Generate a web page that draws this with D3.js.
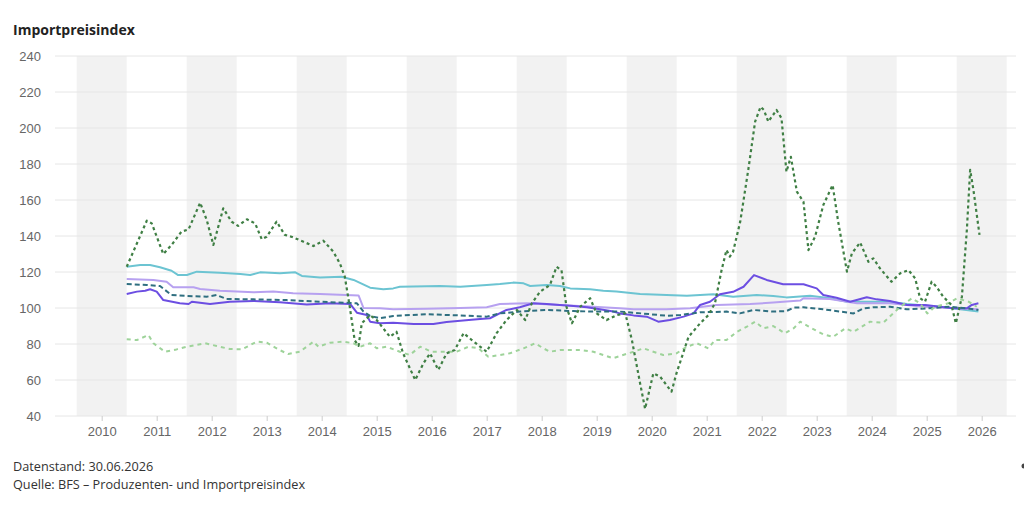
<!DOCTYPE html>
<html>
<head>
<meta charset="utf-8">
<script src="https://cdn.jsdelivr.net/npm/d3@7"></script>
<style>
  body { margin: 0; background: #fff; font-family: "Open Sans", "Noto Sans", sans-serif; }
  .tick text { fill: #666; font-size: 13px; }
</style>
</head>
<body>
<div id="chart"></div>
<script>
// values (decimal year, index value)
var yearTicks = [2010, 2011, 2012, 2013, 2014, 2015, 2016, 2017, 2018, 2019, 2020, 2021, 2022, 2023, 2024, 2025, 2026];
var bandYears = [2010, 2012, 2014, 2016, 2018, 2020, 2022, 2024, 2026];
var valueTicks = [40, 60, 80, 100, 120, 140, 160, 180, 200, 220, 240];

var energy = [[2010.455,122.9],[2010.82,148.5],[2010.91,147],[2011.12,130],[2011.27,135],[2011.45,142.4],[2011.58,143.7],[2011.79,158.5],[2011.91,148.9],[2012.03,135],[2012.21,155.4],[2012.36,148],[2012.48,145.6],[2012.64,149.3],[2012.79,147],[2012.91,138.2],[2013.0,139.6],[2013.18,148],[2013.33,140.6],[2013.45,139.6],[2013.67,136.8],[2013.85,134.4],[2014.03,137.4],[2014.21,131.3],[2014.33,124.8],[2014.42,117.4],[2014.51,100.7],[2014.6,82],[2014.67,79],[2014.73,91.6],[2014.88,96],[2015.0,93.3],[2015.12,88.7],[2015.24,84],[2015.36,86.8],[2015.48,74.8],[2015.7,60],[2015.85,69.3],[2015.97,74.8],[2016.12,65.6],[2016.27,74.8],[2016.42,76.7],[2016.58,86],[2016.73,82.2],[2016.88,78.5],[2017.0,75.7],[2017.18,86],[2017.36,93.3],[2017.55,98.9],[2017.7,93.3],[2017.82,102.6],[2017.97,109],[2018.15,112.8],[2018.27,122.9],[2018.36,121],[2018.45,100.7],[2018.55,91.5],[2018.7,100.7],[2018.88,105.4],[2019.0,97],[2019.18,93.3],[2019.36,96],[2019.52,97],[2019.64,82.2],[2019.79,58],[2019.88,44],[2020.03,63.7],[2020.15,62],[2020.36,53.5],[2020.45,63.7],[2020.67,84],[2020.88,91.5],[2021.03,96],[2021.15,102.6],[2021.27,121],[2021.36,132.2],[2021.42,128.5],[2021.48,131.3],[2021.61,148],[2021.76,177.6],[2021.88,203.5],[2021.98,211.8],[2022.04,210],[2022.12,203.5],[2022.27,210],[2022.36,205.4],[2022.45,175.7],[2022.53,184],[2022.64,164.6],[2022.76,159],[2022.85,132.2],[2022.97,139.6],[2023.12,157.2],[2023.29,168.3],[2023.39,148],[2023.55,120.2],[2023.64,130.4],[2023.79,136.4],[2023.94,125.7],[2024.03,127.6],[2024.15,122],[2024.36,114.6],[2024.52,119.3],[2024.67,121],[2024.79,116.5],[2024.88,105.4],[2024.97,103.5],[2025.09,114.6],[2025.18,111.8],[2025.3,106.3],[2025.45,101.7],[2025.53,91.5],[2025.64,106.3],[2025.73,143.3],[2025.79,176.7],[2025.85,165.6],[2025.96,140.6]];

var agri = [[2010.455,82.6],[2010.64,82.2],[2010.85,85],[2010.94,80.4],[2011.15,75.7],[2011.36,77],[2011.55,78.5],[2011.88,80.4],[2012.09,78.9],[2012.33,77.2],[2012.55,77],[2012.82,81.3],[2013.0,80.7],[2013.21,77],[2013.39,74.4],[2013.6,75.7],[2013.85,81.3],[2013.94,78.5],[2014.15,80.7],[2014.39,81.3],[2014.58,80.4],[2014.7,78.5],[2014.88,80.4],[2015.0,77.6],[2015.18,78.5],[2015.42,75.7],[2015.6,73.9],[2015.79,78.5],[2016.0,75.7],[2016.21,75.7],[2016.45,75.7],[2016.67,78.5],[2016.85,77.6],[2017.03,72.9],[2017.24,73.9],[2017.42,74.8],[2017.67,77.6],[2017.88,80.4],[2018.03,77.6],[2018.15,75.7],[2018.33,76.7],[2018.7,76.7],[2018.94,75.7],[2019.12,73.9],[2019.3,72.1],[2019.48,73.9],[2019.67,75.7],[2019.85,77.6],[2020.03,75.7],[2020.21,73.9],[2020.45,74.8],[2020.64,78.5],[2020.82,80.4],[2021.03,77.6],[2021.15,82.2],[2021.36,82.2],[2021.55,86.8],[2021.73,89.6],[2021.88,92.4],[2022.03,88.7],[2022.21,90],[2022.42,86],[2022.58,88.7],[2022.7,92.4],[2022.91,88.7],[2023.12,85.4],[2023.3,84],[2023.52,88.7],[2023.67,86.8],[2023.97,92.4],[2024.21,91.8],[2024.39,97],[2024.52,100.7],[2024.73,105.4],[2024.88,102.6],[2025.01,97],[2025.15,100.7],[2025.39,102.6],[2025.55,105.4],[2025.76,103.5],[2025.91,100.7]];

var total = [[2010.455,122.9],[2010.7,123.9],[2010.88,123.9],[2011.06,122.6],[2011.27,120.7],[2011.39,118.3],[2011.55,118.3],[2011.73,120.2],[2012.15,119.6],[2012.52,118.9],[2012.7,118.3],[2012.88,119.8],[2013.24,119.3],[2013.52,119.8],[2013.64,117.8],[2013.97,117],[2014.36,117.4],[2014.58,115.6],[2014.88,111.3],[2015.12,110.4],[2015.3,110.9],[2015.42,111.8],[2016.15,112.2],[2016.52,111.8],[2017.0,112.8],[2017.24,113.3],[2017.48,114.1],[2017.67,113.7],[2017.79,112.2],[2018.09,112.8],[2018.33,112.2],[2018.52,110.9],[2018.88,110.4],[2019.12,109.6],[2019.36,109.1],[2019.79,107.8],[2020.27,107.2],[2020.64,106.8],[2021.12,107.6],[2021.48,106.3],[2021.91,107.2],[2022.21,106.7],[2022.45,105.9],[2022.88,106.8],[2023.24,105.4],[2023.55,103.5],[2024.33,103.5],[2024.64,102.2],[2025.24,100.7],[2025.94,98]];

var consumer = [[2010.455,116.1],[2010.94,115.6],[2011.18,114.6],[2011.3,111.5],[2011.67,111.5],[2011.79,110.6],[2012.15,109.6],[2012.76,108.7],[2013.12,109.1],[2013.48,108.2],[2013.97,107.8],[2014.67,107],[2014.76,100],[2015.06,99.8],[2015.3,99.3],[2015.91,99.6],[2016.52,100],[2017.0,100.4],[2017.24,102.2],[2017.73,102.6],[2018.33,101.7],[2018.94,100.7],[2019.42,99.8],[2019.67,99.3],[2020.27,99.3],[2020.7,99.8],[2021.18,101.7],[2021.79,102.2],[2022.21,103],[2022.7,104.1],[2022.76,105.4],[2023.24,105],[2023.73,102.6],[2024.33,102.6],[2024.94,100.7],[2025.55,99.8],[2025.94,99.3]];

var intermediate = [[2010.455,107.8],[2010.64,109.1],[2010.79,109.6],[2010.88,110.4],[2011.0,109.1],[2011.12,104.4],[2011.42,102.6],[2011.58,102.2],[2011.64,103.5],[2011.97,102.2],[2012.33,103.5],[2012.76,103.9],[2013.24,103.2],[2013.73,102],[2014.15,102.6],[2014.52,102.2],[2014.64,97.4],[2014.82,96.1],[2014.88,92.4],[2015.06,91.5],[2015.3,91.8],[2015.67,91.1],[2016.03,91.1],[2016.27,92.2],[2016.52,92.9],[2016.88,93.9],[2017.06,94.3],[2017.36,98.9],[2017.6,100.4],[2017.85,102.6],[2018.09,102.2],[2018.33,101.7],[2018.58,101.1],[2018.82,100.4],[2019.06,99.3],[2019.3,98],[2019.42,97],[2019.67,95.9],[2019.91,95.2],[2020.12,92.4],[2020.33,93.3],[2020.58,95.2],[2020.76,97],[2020.88,101.7],[2021.06,103.5],[2021.24,107.6],[2021.48,109],[2021.67,111.8],[2021.86,118.3],[2022.09,115.6],[2022.39,113.2],[2022.76,113.2],[2023.0,110.9],[2023.12,107.2],[2023.36,105.7],[2023.61,103.5],[2023.91,106],[2024.09,104.8],[2024.33,103.9],[2024.64,101.7],[2024.97,101.7],[2025.48,99.8],[2025.73,99.8],[2025.82,101.7],[2025.94,102.6]];

var capital = [[2010.455,113.3],[2010.82,112.8],[2011.06,112.2],[2011.27,107.2],[2011.55,106.7],[2011.91,106.3],[2012.09,107.2],[2012.27,105],[2012.76,104.8],[2013.36,104.4],[2013.97,103.5],[2014.64,102.6],[2014.76,98],[2014.88,95.6],[2015.06,94.3],[2015.3,95.6],[2015.91,96.5],[2016.52,95.9],[2017.0,95.2],[2017.24,97],[2017.6,98],[2018.09,98.9],[2018.58,98.3],[2018.94,98],[2019.42,98],[2019.67,97.4],[2020.27,95.7],[2020.52,96.1],[2020.88,97.6],[2021.36,98],[2021.6,97],[2021.85,98.9],[2022.21,98],[2022.45,98.3],[2022.58,100.2],[2022.76,100.4],[2023.12,99.3],[2023.67,97],[2023.85,99.8],[2024.03,100.4],[2024.33,100.7],[2024.64,99.3],[2025.0,99.8],[2025.42,100.7],[2025.73,99.8],[2025.94,98.9]];

var svgWidth = 1024, svgHeight = 508;
var margin = { top: 56, right: 4, bottom: 92, left: 55 };
var width = svgWidth - margin.left - margin.right;
var height = svgHeight - margin.top - margin.bottom;

var svg = d3.select("#chart").append("svg")
  .attr("width", svgWidth)
  .attr("height", svgHeight);

svg.append("text")
  .attr("x", 13).attr("y", 35)
  .attr("font-size", "14px").attr("font-weight", "bold").attr("fill", "#222")
  .text("Importpreisindex");

var chartGroup = svg.append("g")
  .attr("transform", `translate(${margin.left}, ${margin.top})`);

// x: 55px per year, 2010 sits 46.7px right of the plot edge
var x = d3.scaleLinear()
  .domain([2010 - 46.7 / 55, 2010 + (width - 46.7) / 55])
  .range([0, width]);
var y = d3.scaleLinear().domain([40, 240]).range([height, 0]);

// alternating grey year bands
chartGroup.selectAll("rect.band")
  .data(bandYears)
  .enter().append("rect")
  .attr("class", "band")
  .attr("x", d => x(d - 25 / 55))
  .attr("width", d => x(d + 25 / 55) - x(d - 25 / 55))
  .attr("y", 0).attr("height", height)
  .attr("fill", "#f2f2f2");

// horizontal grid
chartGroup.selectAll("line.grid")
  .data(valueTicks)
  .enter().append("line")
  .attr("class", "grid")
  .attr("x1", 0).attr("x2", width - 4)
  .attr("y1", d => y(d)).attr("y2", d => y(d))
  .attr("stroke", "#e6e6e6").attr("stroke-width", 1);

var leftAxis = d3.axisLeft(y).tickValues(valueTicks).tickSize(0).tickPadding(14);
chartGroup.append("g").call(leftAxis)
  .call(g => g.select(".domain").remove());

var bottomAxis = d3.axisBottom(x).tickValues(yearTicks).tickFormat(d3.format("d")).tickSize(5).tickPadding(6);
chartGroup.append("g")
  .attr("transform", `translate(0, ${height})`)
  .call(bottomAxis)
  .call(g => g.select(".domain").remove())
  .call(g => g.selectAll(".tick line").attr("stroke", "#ccc"));

var line = d3.line().x(d => x(d[0])).y(d => y(d[1]));

var seriesList = [
  { data: total, color: "#6cc4d2", dash: null, w: 2 },
  { data: consumer, color: "#b7a1f0", dash: null, w: 2 },
  { data: intermediate, color: "#6c4ee2", dash: null, w: 2 },
  { data: capital, color: "#2f6f80", dash: "5,3", w: 2 },
  { data: agri, color: "#9ed39a", dash: "4,4", w: 2 },
  { data: energy, color: "#3f7f44", dash: "3,3", w: 2.2 }
];

seriesList.forEach(function(s) {
  chartGroup.append("path")
    .datum(s.data)
    .attr("d", line)
    .attr("fill", "none")
    .attr("stroke", s.color)
    .attr("stroke-width", s.w)
    .attr("stroke-dasharray", s.dash)
    .attr("stroke-linejoin", "round");
});

svg.append("text").attr("x", 13).attr("y", 471)
  .attr("font-size", "12.7px").attr("fill", "#333")
  .text("Datenstand: 30.06.2026");
svg.append("text").attr("x", 13).attr("y", 489)
  .attr("font-size", "12.7px").attr("fill", "#333")
  .text("Quelle: BFS – Produzenten- und Importpreisindex");

svg.append("circle").attr("cx", 1024).attr("cy", 466).attr("r", 2.5).attr("fill", "#444");
</script>
</body>
</html>
